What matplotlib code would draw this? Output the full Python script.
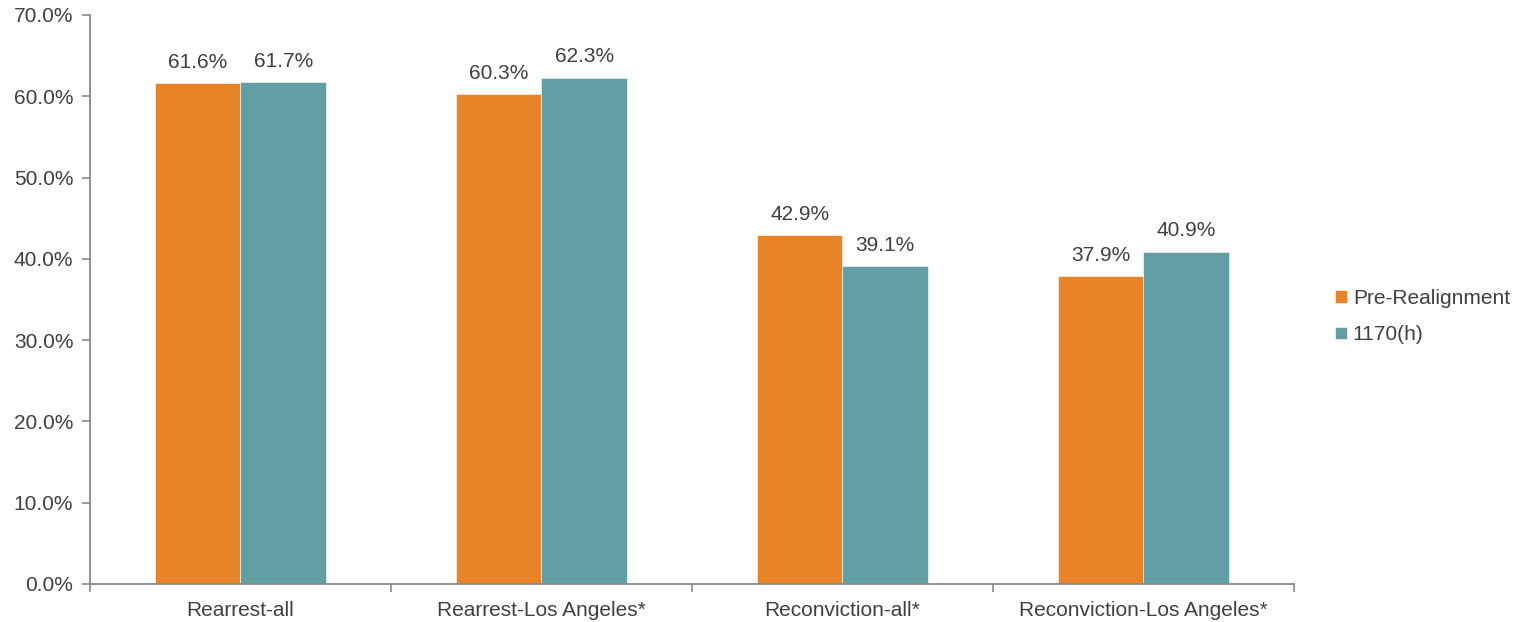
import numpy as np
import matplotlib
matplotlib.use("Agg")
import matplotlib.pyplot as plt
from matplotlib.ticker import FuncFormatter

plt.rcParams.update({"font.family": ["Liberation Sans", "DejaVu Sans"],
                     "font.size": 15, "text.color": "#404040",
                     "xtick.color": "#898989", "ytick.color": "#898989",
                     "xtick.labelcolor": "#404040", "ytick.labelcolor": "#404040"})

categories = ["Rearrest-all", "Rearrest-Los Angeles*",
              "Reconviction-all*", "Reconviction-Los Angeles*"]
series_names = ["Pre-Realignment", "1170(h)"]
pre_realignment = [61.6, 60.3, 42.9, 37.9]
h1170 = [61.7, 62.3, 39.1, 40.9]
colors = ["#E98327", "#639EA5"]

fig = plt.figure(figsize=(15.2, 6.22), dpi=100)
ax = fig.add_axes([0.0592, 0.0611, 0.7921, 0.9148])

x = np.arange(len(categories))
w = 0.284
for vals, off, col, name in [(pre_realignment, -w / 2, colors[0], series_names[0]),
                             (h1170, w / 2, colors[1], series_names[1])]:
    bars = ax.bar(x + off, vals, w, color=col, label=name,
                  edgecolor="white", linewidth=0.4)
    for b, v in zip(bars, vals):
        ax.annotate(f"{v:.1f}%", (b.get_x() + b.get_width() / 2, v),
                    xytext=(0, 8), textcoords="offset points",
                    ha="center", va="bottom", fontsize=15, color="#404040")

ax.set_xlim(-0.5, len(categories) - 0.5)
ax.set_ylim(0, 70)
ax.set_yticks(np.arange(0, 71, 10))
ax.yaxis.set_major_formatter(FuncFormatter(lambda v, _: f"{v:.1f}%"))
ax.set_xticks(np.arange(-0.5, len(categories), 1.0))
ax.set_xticklabels([])
ax.set_xticks(x, minor=True)
ax.set_xticklabels(categories, minor=True)
ax.tick_params(axis="x", which="minor", length=0, pad=12)
ax.tick_params(axis="x", which="major", length=6, width=1.2)
ax.tick_params(axis="y", length=6, width=1.2, pad=6)

for s in ["top", "right"]:
    ax.spines[s].set_visible(False)
for s in ["left", "bottom"]:
    ax.spines[s].set_color("#898989")
    ax.spines[s].set_linewidth(1.3)

fig.legend(loc="center left", bbox_to_anchor=(0.866, 0.491), frameon=False,
           handlelength=0.55, handleheight=0.55, handletextpad=0.3,
           labelspacing=0.85, fontsize=15)

fig.savefig("out.png", dpi=100)
